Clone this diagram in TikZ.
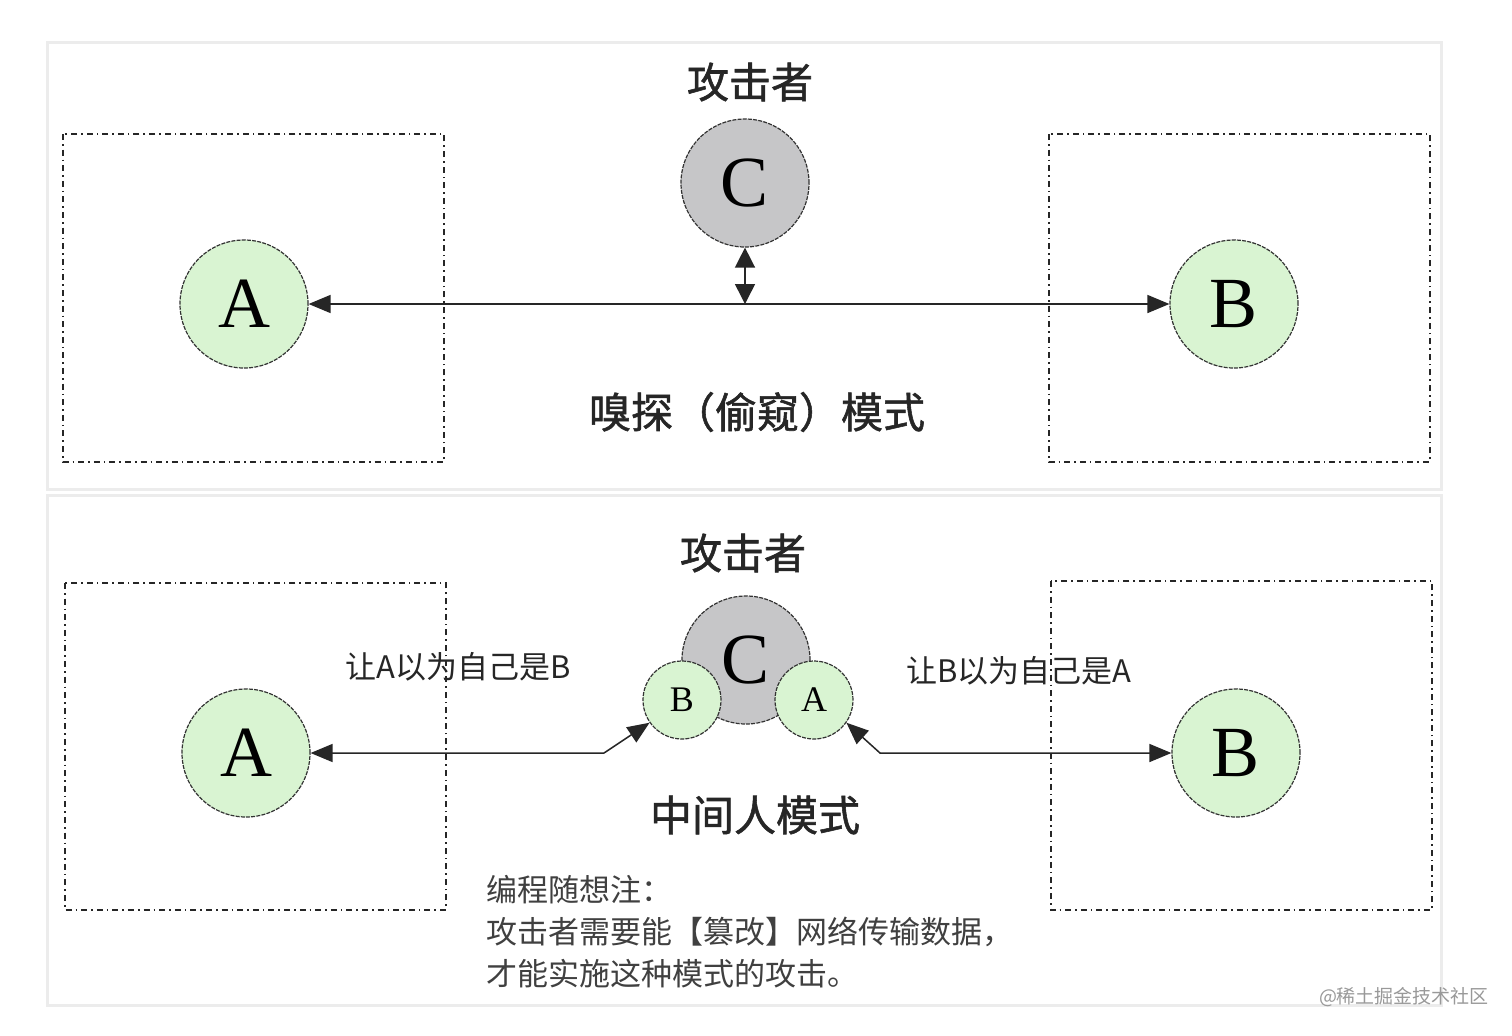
\documentclass[tikz,border=0pt]{standalone}
\usepackage{fontspec}
\setmainfont{Liberation Serif}
\newfontfamily\cjk{Noto Sans CJK SC}
\newfontfamily\cjkm[FakeBold=1.3]{Noto Sans CJK SC}
\usetikzlibrary{arrows.meta}
\definecolor{nodegreen}{HTML}{D9F4D2}
\definecolor{nodegray}{HTML}{C6C6C8}
\definecolor{panelline}{HTML}{ECECEC}
\tikzset{
  bigcircle/.style={circle, minimum size=64pt, inner sep=0pt, draw=black!80, line width=0.6pt,
    dash pattern=on 2pt off 0.6pt, font=\fontsize{36}{40}\selectfont},
  smallcircle/.style={circle, minimum size=39pt, inner sep=0pt, draw=black!80, line width=0.6pt,
    dash pattern=on 2pt off 0.6pt, fill=nodegreen, font=\fontsize{18}{20}\selectfont},
  hostbox/.style={draw=black!85, line width=0.9pt, dash pattern=on 3pt off 2pt on 0.8pt off 2pt},
  conn/.style={draw=black!85, line width=0.75pt, {Triangle[length=11pt,width=9pt]}-{Triangle[length=11pt,width=9pt]}},
  title/.style={font=\cjkm\fontsize{21}{24}\selectfont, text=black!85},
  lbl/.style={font=\cjk\fontsize{15.5}{18}\selectfont, text=black!85},
  note/.style={font=\cjk\fontsize{15.5}{21}\selectfont, text=black!75, align=left, anchor=north west},
  wm/.style={font=\cjk\fontsize{9.5}{11}\selectfont, text=black!40},
  panel/.style={fill=white, draw=panelline, line width=1.5pt}
}
\begin{document}
\begin{tikzpicture}[x=0.5pt, y=-0.5pt]
\useasboundingbox (0,0) rectangle (1512,1035);
\fill[white] (0,0) rectangle (1512,1035);
% panels
\draw[panel] (47,42) rectangle (1441,489);
\draw[panel] (47,495) rectangle (1441,1005);

% ===== top panel =====
\node[title] (t1) at (750,82) {攻击者};
\draw[hostbox] (63,134) rectangle (444,462);
\draw[hostbox] (1049,134) rectangle (1430,462);
\node[bigcircle, fill=nodegray] (C1) at (745,183) {C};
\node[bigcircle, fill=nodegreen] (A1) at (244,304) {A};
\node[bigcircle, fill=nodegreen] (B1) at (1234,304) {B};
\draw[conn] (A1.east) -- (B1.west);
\coordinate (m1) at (745,304);
\draw[draw=black!85, line width=0.75pt, {Triangle[length=10pt,width=10pt]}-{Triangle[length=10pt,width=10pt]}] (C1.south) -- (m1);
\node[title] (s1) at (757,412) {嗅探（偷窥）模式};

% ===== bottom panel =====
\node[title] (t2) at (743,553) {攻击者};
\draw[hostbox] (65,583) rectangle (446,910);
\draw[hostbox] (1051,581) rectangle (1432,910);
\node[bigcircle, fill=nodegray] (C2) at (746,660) {};
\node[smallcircle] (sB) at (682,700) {B};
\node[smallcircle] (sA) at (814,700) {A};
\node[font=\fontsize{36}{40}\selectfont, anchor=center] (C2l) at (746,660) {C};
\node[bigcircle, fill=nodegreen] (A2) at (246,753) {A};
\node[bigcircle, fill=nodegreen] (B2) at (1236,753) {B};
\coordinate (p1) at (604,753);
\coordinate (p2) at (880,753);
\draw[conn] (A2.east) -- (p1) -- (sB.215);
\draw[conn] (sA.325) -- (p2) -- (B2.west);
\node[lbl] (l1) at (458,667) {让A以为自己是B};
\node[lbl] (l2) at (1019,671) {让B以为自己是A};
\node[title] (s2) at (755,815) {中间人模式};
\node[note] (n1) at (479,868) {编程随想注：\\攻击者需要能【篡改】网络传输数据，\\才能实施这种模式的攻击。};
\node[wm] (w1) at (1404,997) {@稀土掘金技术社区};
\end{tikzpicture}
\end{document}
